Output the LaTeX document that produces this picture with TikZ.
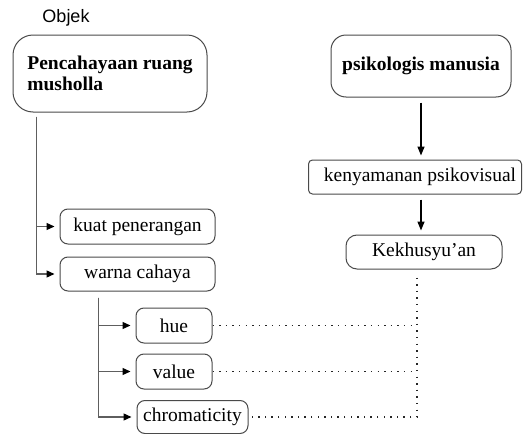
\documentclass[tikz,border=0pt]{standalone}
\usepackage{fontspec}
\setmainfont{Liberation Serif}
\newfontfamily\objfont{Liberation Sans}
\usetikzlibrary{arrows.meta,positioning,calc}
\definecolor{edge}{HTML}{4A4A4A}
\definecolor{stem}{HTML}{5E5E5E}

\begin{document}
\begin{tikzpicture}[x=1pt,y=-1pt,
  font=\fontsize{19.5}{21}\selectfont,
  box/.style={draw=edge,rounded corners=#1,line width=1pt,inner sep=0pt,align=center},
  box/.default=8pt,
  head/.style={font=\bfseries\fontsize{19.5}{21}\selectfont},
  tree/.style={-{Triangle[length=8pt,width=7pt,color=black]},line width=1.3pt,color=stem,shorten >=5pt},
  arr/.style={-{Triangle[length=9pt,width=7pt]},line width=1.4pt,color=black,shorten <=5pt,shorten >=4pt},
  dots/.style={line width=1.5pt,dash pattern=on 1.4pt off 5.2pt,color=black!85}]
\useasboundingbox (0,0) rectangle (523,434);
% object side
\node[font=\objfont\fontsize{18}{20}\selectfont] (obj) at (66,18) {Objek};
\node[box=20pt,head,minimum width=194pt,minimum height=77pt,align=left] (musholla) at (110,73.5) {Pencahayaan ruang\\musholla};
\node[box,minimum width=155pt,minimum height=35pt] (kuat) at (137.5,226.5) {kuat penerangan};
\node[box,minimum width=155pt,minimum height=34pt] (warna) at (137.5,274) {warna cahaya};
\node[box,minimum width=76pt,minimum height=35pt] (hue) at (174,325.5) {hue};
\node[box,minimum width=76pt,minimum height=35pt] (value) at (174,371.5) {value};
\node[box,minimum width=111pt,minimum height=33pt] (chroma) at (192.5,417) {chromaticity};
% tree lines
\coordinate (stem1) at ([xshift=24pt,yshift=-4pt]musholla.south west);
\foreach \t in {kuat,warna} \draw[tree] (stem1) |- (\t);
\coordinate (stem2) at ([xshift=39pt,yshift=-6pt]warna.south west);
\foreach \t in {hue,value,chroma} \draw[tree] (stem2) |- (\t);
% human side
\node[box=15pt,head,minimum width=180pt,minimum height=62pt] (psiko) at (421,66) {psikologis manusia};
\node[box=4pt,minimum width=213pt,minimum height=34pt] (nyaman) at (415,177) {\hspace*{10pt}kenyamanan psikovisual};
\node[box=11pt,minimum width=156pt,minimum height=34pt] (khusyu) at (424,252) {Kekhusyu'an};
\draw[arr] (psiko.south) -- (psiko.south |- nyaman.north);
\draw[arr] (psiko.south |- nyaman.south) -- (psiko.south |- khusyu.north);
% dotted links
\coordinate (join) at ([xshift=-7pt,yshift=-8pt]khusyu.south);
\draw[dots] (join) |- (chroma.east);
\foreach \t in {hue,value} \draw[dots] (\t.east) -- (\t.east -| join);
\end{tikzpicture}
\end{document}
